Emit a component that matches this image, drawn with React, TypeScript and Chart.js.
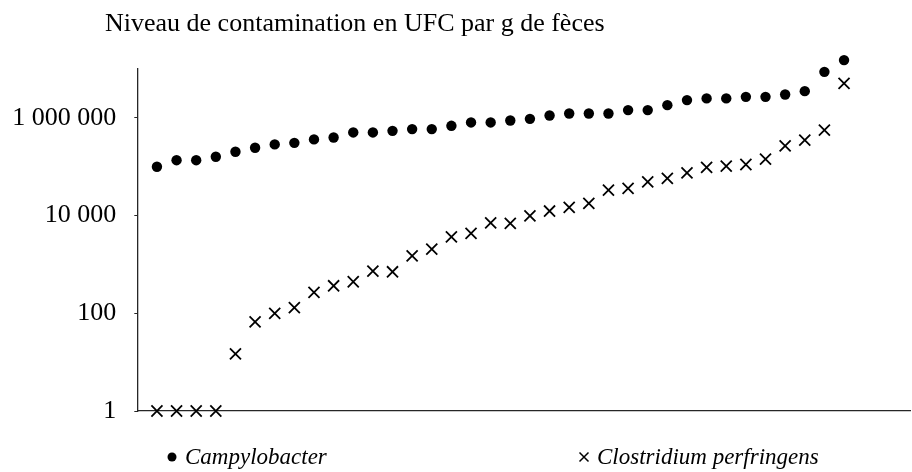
import { useEffect, useRef } from 'react';
import { Chart, registerables } from 'chart.js';

Chart.register(...registerables);

const TITLE = 'Niveau de contamination en UFC par g de fèces';
const seriesNames = ['Campylobacter', 'Clostridium perfringens'];

// sample rank (x position of each faecal sample)
const samples = [
  1, 2, 3, 4, 5, 6, 7, 8, 9, 10, 11, 12, 13, 14, 15, 16, 17, 18,
  19, 20, 21, 22, 23, 24, 25, 26, 27, 28, 29, 30, 31, 32, 33, 34, 35, 36,
];

const campylobacter = [
  100000, 136000, 136000, 160000, 202000, 244000, 286000, 308000, 362000,
  397000, 503000, 503000, 542000, 588000, 588000, 687000, 806000, 806000,
  885000, 955000, 1120000, 1230000, 1230000, 1230000, 1440000, 1440000,
  1820000, 2310000, 2500000, 2500000, 2690000, 2690000, 3010000, 3520000,
  8740000, 15200000,
];

const clostridium = [
  1, 1, 1, 1, 14.7, 67, 100, 130, 268, 366, 442, 731, 708, 1500, 2060, 3680,
  4320, 7120, 6920, 9900, 12400, 14700, 17700, 33200, 36000, 49100, 57700,
  75000, 96800, 103000, 111000, 143000, 268000, 350000, 561000, 5060000,
];

const yTickValues = [1, 100, 10000, 1000000];
const yTickLabels = ['1', '100', '10 000', '1 000 000'];

const SERIF = '"Liberation Serif", "Times New Roman", serif';

// let marks that lie beyond the axis maximum (top sample) still be drawn
const overflowPlugin = {
  id: 'overflowPoints',
  beforeDatasetsDraw(chart: any) {
    chart.$savedTop = chart.chartArea.top;
    chart.chartArea.top = 0;
  },
  afterDatasetsDraw(chart: any) {
    if (chart.$savedTop !== undefined) chart.chartArea.top = chart.$savedTop;
  },
};

const overlayPlugin = {
  id: 'overlayText',
  afterDraw(chart: any) {
    const ctx = chart.ctx;
    ctx.save();
    ctx.fillStyle = '#000';
    ctx.font = `26px ${SERIF}`;
    ctx.textBaseline = 'alphabetic';
    ctx.textAlign = 'left';
    ctx.fillText(TITLE, 105, 31);

    // legend
    const items = [
      { marker: 'dot', mx: 172, tx: 185 },
      { marker: 'cross', mx: 584, tx: 597 },
    ];
    ctx.font = `italic 23px ${SERIF}`;
    items.forEach((it, i) => {
      const my = 457;
      ctx.fillStyle = '#000';
      ctx.strokeStyle = '#000';
      if (it.marker === 'dot') {
        ctx.beginPath();
        ctx.arc(it.mx, my, 4.5, 0, Math.PI * 2);
        ctx.fill();
      } else {
        ctx.lineWidth = 1.5;
        const h = 4.5;
        ctx.beginPath();
        ctx.moveTo(it.mx - h, my - h);
        ctx.lineTo(it.mx + h, my + h);
        ctx.moveTo(it.mx - h, my + h);
        ctx.lineTo(it.mx + h, my - h);
        ctx.stroke();
      }
      ctx.fillText(chart.data.datasets[i].label, it.tx, 464);
    });
    ctx.restore();
  },
};

export default function App() {
  const canvasRef = useRef<HTMLCanvasElement | null>(null);

  useEffect(() => {
    if (!canvasRef.current) return;
    const chart = new Chart(canvasRef.current, {
      type: 'scatter',
      data: {
        datasets: [
          {
            label: seriesNames[0],
            data: samples.map((s, i) => ({ x: s, y: campylobacter[i] })),
            pointStyle: 'circle',
            pointRadius: 5.2,
            pointHoverRadius: 5.2,
            backgroundColor: '#000',
            borderColor: '#000',
            borderWidth: 0,
            clip: false,
          },
          {
            label: seriesNames[1],
            data: samples.map((s, i) => ({ x: s, y: clostridium[i] })),
            pointStyle: 'crossRot',
            pointRadius: 7.8,
            pointHoverRadius: 7.8,
            backgroundColor: '#000',
            borderColor: '#000',
            borderWidth: 1.8,
            clip: false,
          },
        ],
      },
      options: {
        animation: false,
        responsive: false,
        maintainAspectRatio: false,
        events: [],
        layout: { autoPadding: false, padding: { top: 69, bottom: 61, left: 0, right: 2 } },
        plugins: {
          legend: { display: false },
          title: { display: false },
          tooltip: { enabled: false },
        },
        scales: {
          x: {
            type: 'linear',
            min: 0,
            max: 39.36,
            grid: { display: false, drawTicks: false },
            border: { display: true, color: '#262626', width: 1.3 },
            ticks: { display: false },
          },
          y: {
            type: 'logarithmic',
            min: 1,
            max: 10000000,
            afterBuildTicks: (scale: any) => {
              scale.ticks = yTickValues.map((v) => ({ value: v }));
            },
            afterFit: (scale: any) => {
              scale.width = 137.3;
            },
            grid: {
              display: true,
              drawOnChartArea: false,
              drawTicks: true,
              tickLength: 3,
              color: '#262626',
            },
            border: { display: true, color: '#262626', width: 1.3 },
            ticks: {
              autoSkip: false,
              padding: 18,
              color: '#000',
              font: { family: SERIF, size: 26 },
              callback: (value: any) => {
                const idx = yTickValues.indexOf(Number(value));
                return idx >= 0 ? yTickLabels[idx] : '';
              },
            },
          },
        },
      },
      plugins: [overflowPlugin, overlayPlugin],
    });
    return () => chart.destroy();
  }, []);

  return (
    <div style={{ position: 'fixed', left: 0, top: 0, width: 912, height: 472, background: '#fff' }}>
      <canvas ref={canvasRef} width={912} height={472} style={{ width: 912, height: 472, display: 'block' }} />
    </div>
  );
}
